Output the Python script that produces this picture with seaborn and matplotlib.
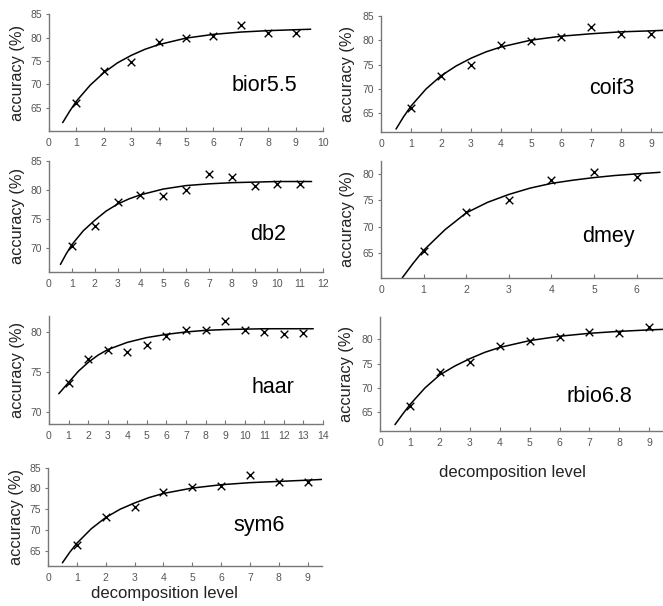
import numpy as np
import pandas as pd
import matplotlib
matplotlib.use("Agg")
import matplotlib.pyplot as plt
import seaborn as sns

# measured accuracies per wavelet (x = decomposition level)
bior_x = [1, 2, 3, 4, 5, 6, 7, 8, 9]
bior_y = [66.1, 72.9, 74.7, 79.1, 79.9, 80.4, 82.8, 81.0, 81.0]
coif_x = [1, 2, 3, 4, 5, 6, 7, 8, 9]
coif_y = [66.2, 72.6, 74.9, 79.0, 79.8, 80.7, 82.6, 81.2, 81.2]
db2_x = [1, 2, 3, 4, 5, 6, 7, 8, 9, 10, 11]
db2_y = [70.3, 73.7, 77.8, 79.0, 78.9, 79.9, 82.7, 82.1, 80.7, 80.9, 80.9]
dmey_x = [1, 2, 3, 4, 5, 6]
dmey_y = [65.3, 72.7, 75.1, 78.8, 80.3, 79.5]
haar_x = [1, 2, 3, 4, 5, 6, 7, 8, 9, 10, 11, 12, 13]
haar_y = [73.6, 76.6, 77.7, 77.5, 78.4, 79.5, 80.2, 80.3, 81.4, 80.3, 80.0, 79.8, 79.9]
rbio_x = [1, 2, 3, 4, 5, 6, 7, 8, 9]
rbio_y = [66.3, 73.3, 75.4, 78.6, 79.7, 80.4, 81.4, 81.3, 82.5]
sym_x = [1, 2, 3, 4, 5, 6, 7, 8, 9]
sym_y = [66.3, 73.2, 75.6, 79.1, 80.3, 80.7, 83.2, 81.5, 81.6]

# fitted curves
bior_fx = [0.5, 0.75, 1, 1.5, 2, 2.5, 3, 3.5, 4, 5, 6, 7, 8, 9, 9.55]
bior_fy = [61.8, 64.2, 66.4, 69.8, 72.5, 74.6, 76.2, 77.5, 78.5, 79.9, 80.7, 81.2, 81.5, 81.7, 81.8]
coif_fx = [0.5, 0.75, 1, 1.5, 2, 2.5, 3, 3.5, 4, 5, 6, 7, 8, 9, 9.4]
coif_fy = [61.8, 64.3, 66.5, 70.0, 72.7, 74.7, 76.3, 77.6, 78.6, 80.0, 80.8, 81.3, 81.7, 81.9, 82.0]
db2_fx = [0.5, 0.75, 1, 1.5, 2, 2.5, 3, 3.5, 4, 5, 6, 7, 8, 9, 10, 11, 11.5]
db2_fy = [67.1, 68.9, 70.5, 72.9, 74.7, 76.3, 77.5, 78.4, 79.1, 80.1, 80.7, 81.0, 81.2, 81.3, 81.4, 81.4, 81.4]
dmey_fx = [0.5, 0.75, 1, 1.5, 2, 2.5, 3, 3.5, 4, 4.5, 5, 5.5, 6, 6.55]
dmey_fy = [60.3, 63.0, 65.5, 69.4, 72.6, 74.6, 76.1, 77.3, 78.2, 78.8, 79.3, 79.7, 80.0, 80.3]
haar_fx = [0.5, 1, 1.5, 2, 2.5, 3, 4, 5, 6, 7, 8, 9, 10, 11, 12, 13.5]
haar_fy = [72.3, 73.7, 75.1, 76.2, 77.1, 77.8, 78.7, 79.3, 79.7, 80.0, 80.2, 80.3, 80.35, 80.4, 80.4, 80.4]
rbio_fx = [0.5, 0.75, 1, 1.5, 2, 2.5, 3, 3.5, 4, 5, 6, 7, 8, 9, 9.45]
rbio_fy = [62.5, 64.6, 66.6, 70.0, 72.7, 74.5, 76.0, 77.3, 78.3, 79.7, 80.6, 81.2, 81.6, 81.9, 82.0]
sym_fx = [0.5, 0.75, 1, 1.5, 2, 2.5, 3, 3.5, 4, 5, 6, 7, 8, 9, 9.55]
sym_fy = [62.1, 64.6, 66.8, 70.3, 73.0, 75.0, 76.5, 77.8, 78.8, 80.1, 80.9, 81.4, 81.7, 82.0, 82.2]

names = ["bior5.5", "coif3", "db2", "dmey", "haar", "rbio6.8", "sym6"]

sns.set_style("ticks")
plt.rcParams['font.family'] = ['Liberation Sans', 'DejaVu Sans']

fig = plt.figure(figsize=(6.63, 6.06), dpi=100)

# one entry per panel: rect, xlim, ylim, yticks, label pos
panels = [
    (bior_x, bior_y, bior_fx, bior_fy, [0.0739, 0.7838, 0.4133, 0.1926], 10, (60, 85), [65, 70, 75, 80, 85], (0.905, 0.39)),
    (coif_x, coif_y, coif_fx, coif_fy, [0.5747, 0.7822, 0.4253, 0.1919], 9.4, (61.2, 85), [65, 70, 75, 80, 85], (0.897, 0.378)),
    (db2_x, db2_y, db2_fx, db2_fy, [0.0739, 0.5512, 0.4133, 0.1837], 12, (65.8, 85), [70, 75, 80, 85], (0.865, 0.34)),
    (dmey_x, dmey_y, dmey_fx, dmey_fy, [0.5747, 0.5417, 0.4253, 0.1931], 6.62, (60.3, 82.5), [65, 70, 75, 80], (0.90, 0.35)),
    (haar_x, haar_y, haar_fx, haar_fy, [0.0739, 0.3000, 0.4133, 0.1787], 14, (68.5, 82), [70, 75, 80], (0.894, 0.335)),
    (rbio_x, rbio_y, rbio_fx, rbio_fy, [0.5732, 0.2888, 0.4268, 0.1886], 9.46, (61.2, 84.6), [65, 70, 75, 80], (0.89, 0.306)),
    (sym_x, sym_y, sym_fx, sym_fy, [0.0724, 0.0665, 0.4133, 0.1617], 9.5, (61.4, 85), [65, 70, 75, 80, 85], (0.865, 0.415)),
]

for i, (px, py, fx, fy, rect, xmax, ylim, yt, lab) in enumerate(panels):
    ax = fig.add_axes(rect)
    sns.lineplot(x=fx, y=fy, ax=ax, color="black", linewidth=1.1, sort=False)
    sns.scatterplot(x=px, y=py, ax=ax, marker="x", color="black", s=30, linewidth=1.0, zorder=3)
    ax.set_xlim(0, xmax)
    ax.set_ylim(*ylim)
    ax.set_xticks(range(0, int(xmax) + 1))
    ax.set_yticks(yt)
    sns.despine(ax=ax)
    for sp in ["left", "bottom"]:
        ax.spines[sp].set_color("#777777")
        ax.spines[sp].set_linewidth(1.0)
    ax.tick_params(axis="x", direction="in", length=3, width=0.8, color="#777777",
                   labelsize=7.5, labelcolor="#555555", pad=5)
    ax.tick_params(axis="y", direction="out", length=2, width=0.8, color="#777777",
                   labelsize=7.5, labelcolor="#555555", pad=3)
    ax.set_ylabel("accuracy (%)", fontsize=11.8, color="#222222")
    ax.yaxis.set_label_coords(-0.088 if rect[0] < 0.5 else -0.091, 0.5)
    ax.text(lab[0], lab[1], names[i], transform=ax.transAxes, ha="right", va="center",
            fontsize=15.5, color="black")
    if i == 6:
        ax.set_xlabel("decomposition level", fontsize=12, color="#222222")
        ax.xaxis.set_label_coords(0.426, -0.21)
    elif i == 5:
        ax.set_xlabel("decomposition level", fontsize=12, color="#222222")
        ax.xaxis.set_label_coords(0.469, -0.30)
    else:
        ax.set_xlabel("")

fig.savefig("out.png", dpi=100)
